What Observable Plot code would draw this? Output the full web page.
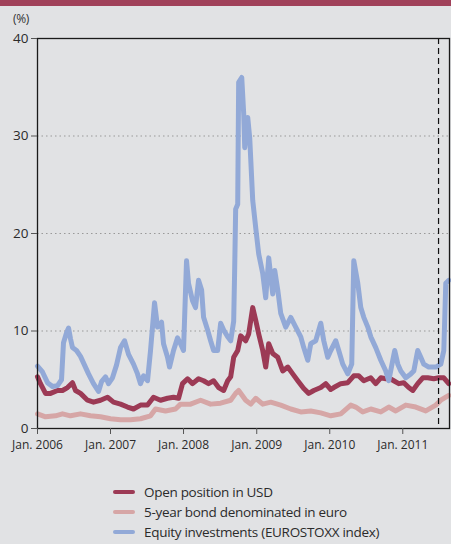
<!DOCTYPE html>
<html>
<head>
<meta charset="utf-8">
<script src="https://cdn.jsdelivr.net/npm/d3@7"></script>
<script src="https://cdn.jsdelivr.net/npm/@observablehq/plot@0.6"></script>
<style>
  html, body { margin: 0; padding: 0; background: #e1e2e4; }
  body { width: 451px; height: 544px; position: relative; overflow: hidden; font-family: "Open Sans", "Noto Sans", sans-serif; color: #2b2b2b; }
  #bar { position: absolute; left: 0; top: 0; width: 451px; height: 6px; background: #a0415a; }
  #unit { position: absolute; left: 13px; top: 10px; font-size: 12px; color: #333; letter-spacing: -0.3px; }
  #chart { position: absolute; left: 0; top: 0; }
  #legend { position: absolute; left: 113px; top: 482px; font-size: 13.5px; letter-spacing: -0.3px; }
  .item { display: flex; align-items: center; height: 20px; }
  .sw { width: 22px; height: 4px; border-radius: 2px; margin-right: 9px; }
</style>
</head>
<body>
<div id="bar"></div>
<div id="unit">(%)</div>
<div id="chart"></div>
<div id="legend"></div>
<script>
// Series names and colours
const seriesNames = ["Open position in USD", "5-year bond denominated in euro", "Equity investments (EUROSTOXX index)"];
const seriesColors = ["#9c3a55", "#d6a6a6", "#92a9d7"];

// Time in decimal years, values in %
const usdT = [2006.000,2006.041,2006.110,2006.178,2006.274,2006.342,2006.411,2006.479,2006.521,2006.589,2006.685,2006.767,2006.863,2006.959,2007.041,2007.137,2007.233,2007.315,2007.411,2007.507,2007.589,2007.685,2007.781,2007.863,2007.932,2007.986,2008.055,2008.123,2008.205,2008.274,2008.342,2008.411,2008.479,2008.548,2008.603,2008.644,2008.685,2008.740,2008.781,2008.849,2008.890,2008.945,2008.986,2009.027,2009.082,2009.123,2009.164,2009.219,2009.288,2009.356,2009.425,2009.493,2009.562,2009.644,2009.712,2009.781,2009.877,2009.945,2010.014,2010.055,2010.151,2010.247,2010.329,2010.397,2010.466,2010.562,2010.630,2010.699,2010.767,2010.808,2010.877,2010.945,2011.014,2011.082,2011.137,2011.205,2011.274,2011.342,2011.425,2011.493,2011.562,2011.630];
const usdV = [5.3,4.6,3.6,3.6,3.9,3.9,4.2,4.7,3.9,3.6,2.9,2.7,2.9,3.2,2.7,2.5,2.2,2.0,2.4,2.4,3.2,2.9,3.1,3.2,3.1,4.6,5.1,4.6,5.1,4.9,4.6,4.9,4.2,3.9,4.9,5.3,7.3,8.0,9.5,9.0,9.7,12.4,11.1,9.7,8.0,6.3,8.7,7.7,7.3,5.9,6.3,5.6,4.9,4.1,3.6,3.9,4.2,4.6,4.0,4.2,4.6,4.7,5.4,5.4,4.9,5.2,4.6,5.2,5.1,5.2,4.9,4.6,4.7,4.2,3.9,4.6,5.2,5.2,5.1,5.2,5.2,4.6];

const bondT = [2006.000,2006.110,2006.247,2006.342,2006.452,2006.589,2006.726,2006.863,2007.000,2007.137,2007.274,2007.411,2007.548,2007.616,2007.753,2007.890,2007.959,2008.096,2008.233,2008.370,2008.507,2008.644,2008.712,2008.753,2008.849,2008.918,2008.986,2009.082,2009.192,2009.329,2009.466,2009.603,2009.740,2009.877,2010.014,2010.151,2010.288,2010.356,2010.452,2010.562,2010.699,2010.808,2010.904,2011.041,2011.178,2011.315,2011.452,2011.521,2011.630];
const bondV = [1.5,1.2,1.3,1.5,1.3,1.5,1.3,1.2,1.0,0.9,0.9,1.0,1.3,2.0,1.8,2.0,2.5,2.5,2.9,2.5,2.6,2.9,3.6,3.9,2.9,2.5,3.1,2.5,2.7,2.4,2.0,1.7,1.8,1.6,1.3,1.5,2.4,2.2,1.7,2.0,1.7,2.2,1.8,2.4,2.2,1.8,2.4,2.9,3.4];

const eqT = [2006.000,2006.068,2006.137,2006.205,2006.274,2006.329,2006.356,2006.397,2006.425,2006.452,2006.479,2006.534,2006.589,2006.644,2006.699,2006.767,2006.836,2006.877,2006.932,2006.973,2007.027,2007.082,2007.137,2007.192,2007.247,2007.315,2007.370,2007.411,2007.452,2007.507,2007.548,2007.603,2007.644,2007.699,2007.726,2007.781,2007.808,2007.863,2007.918,2007.959,2008.000,2008.041,2008.068,2008.123,2008.164,2008.205,2008.247,2008.274,2008.329,2008.370,2008.411,2008.466,2008.507,2008.548,2008.603,2008.644,2008.685,2008.699,2008.712,2008.740,2008.753,2008.795,2008.822,2008.836,2008.877,2008.904,2008.945,2008.986,2009.027,2009.082,2009.123,2009.164,2009.219,2009.247,2009.288,2009.329,2009.397,2009.466,2009.534,2009.603,2009.644,2009.699,2009.740,2009.808,2009.877,2009.918,2009.973,2010.014,2010.082,2010.123,2010.178,2010.247,2010.301,2010.329,2010.384,2010.425,2010.466,2010.521,2010.562,2010.630,2010.699,2010.767,2010.808,2010.863,2010.890,2010.932,2010.973,2011.041,2011.110,2011.151,2011.205,2011.247,2011.288,2011.356,2011.452,2011.521,2011.562,2011.589,2011.630];
const eqV = [6.4,5.8,4.7,4.3,4.4,5.0,8.8,9.8,10.3,9.2,8.3,8.0,7.4,6.5,5.6,4.6,3.8,4.8,5.3,4.6,5.2,6.5,8.3,9.0,7.6,6.6,5.6,4.6,5.4,4.9,8.0,12.9,10.4,10.9,8.7,7.3,6.3,8.0,9.3,8.7,8.0,17.2,14.9,13.1,12.4,15.2,14.2,11.4,10.1,9.0,8.0,8.0,10.8,10.1,9.4,9.0,11.0,16.5,22.5,23.0,35.5,36.0,32.3,28.8,31.9,29.8,23.4,20.6,17.9,15.9,13.4,17.5,13.8,16.2,14.2,11.8,10.4,11.4,10.4,9.4,8.3,7.0,8.7,9.0,10.8,9.0,7.3,8.0,9.0,8.0,6.6,5.6,6.6,17.2,14.9,12.4,11.4,10.4,9.4,8.3,7.0,5.9,4.9,7.0,8.0,6.6,5.9,5.2,5.6,5.9,8.0,7.3,6.6,6.3,6.3,6.6,8.0,14.9,15.2];

const xTickYears = [2006, 2007, 2008, 2009, 2010, 2011];
const yTicks = [0, 10, 20, 30, 40];
const markerDate = 2011.49;   // dashed vertical line
const xStart = 2006.0, xEnd = 2011.64;

function toDate(t) {
  const y = Math.floor(t);
  const a = Date.UTC(y, 0, 1), b = Date.UTC(y + 1, 0, 1);
  return new Date(a + (t - y) * (b - a));
}

const rows = [];
[[usdT, usdV], [bondT, bondV], [eqT, eqV]].forEach(([T, V], i) => {
  T.forEach((t, j) => rows.push({ date: toDate(t), value: V[j], series: seriesNames[i] }));
});
const order = [seriesNames[1], seriesNames[0], seriesNames[2]];

const chart = Plot.plot({
  width: 451,
  height: 460,
  marginLeft: 37,
  marginRight: 2,
  marginTop: 38,
  marginBottom: 32,
  style: { background: "transparent", fontFamily: "'Open Sans', 'Noto Sans', sans-serif", color: "#2b2b2b" },
  x: { type: "utc", domain: [toDate(xStart), toDate(xEnd)] },
  y: { domain: [0, 40] },
  color: { domain: seriesNames, range: seriesColors },
  marks: [
    Plot.ruleY(yTicks.slice(1, 4), { stroke: "#999", strokeDasharray: "1.5,3", strokeWidth: 1 }),
    ...order.map(s => Plot.line(rows.filter(d => d.series === s), { x: "date", y: "value", stroke: "series", strokeWidth: 5, strokeLinejoin: "round", curve: "linear" })),
    Plot.ruleX([toDate(markerDate)], { stroke: "#111", strokeWidth: 1.2, strokeDasharray: "6,4" }),
    Plot.frame({ stroke: "#1a1a1a", strokeWidth: 1.3 }),
    Plot.axisY({ ticks: yTicks, tickSize: 6, tickPadding: 3, fontSize: 13.5, label: null, stroke: "#555" }),
    Plot.axisX({ ticks: xTickYears.map(y => toDate(y)), tickSize: 6, tickPadding: 6, fontSize: 12,
      tickFormat: d => "Jan. " + d.getUTCFullYear(), label: null, stroke: "#555" })
  ]
});
document.getElementById("chart").appendChild(chart);

const legend = document.getElementById("legend");
seriesNames.forEach((n, i) => {
  const it = document.createElement("div");
  it.className = "item";
  const sw = document.createElement("div");
  sw.className = "sw";
  sw.style.background = seriesColors[i];
  const tx = document.createElement("span");
  tx.textContent = n;
  it.appendChild(sw); it.appendChild(tx);
  legend.appendChild(it);
});
</script>
</body>
</html>
